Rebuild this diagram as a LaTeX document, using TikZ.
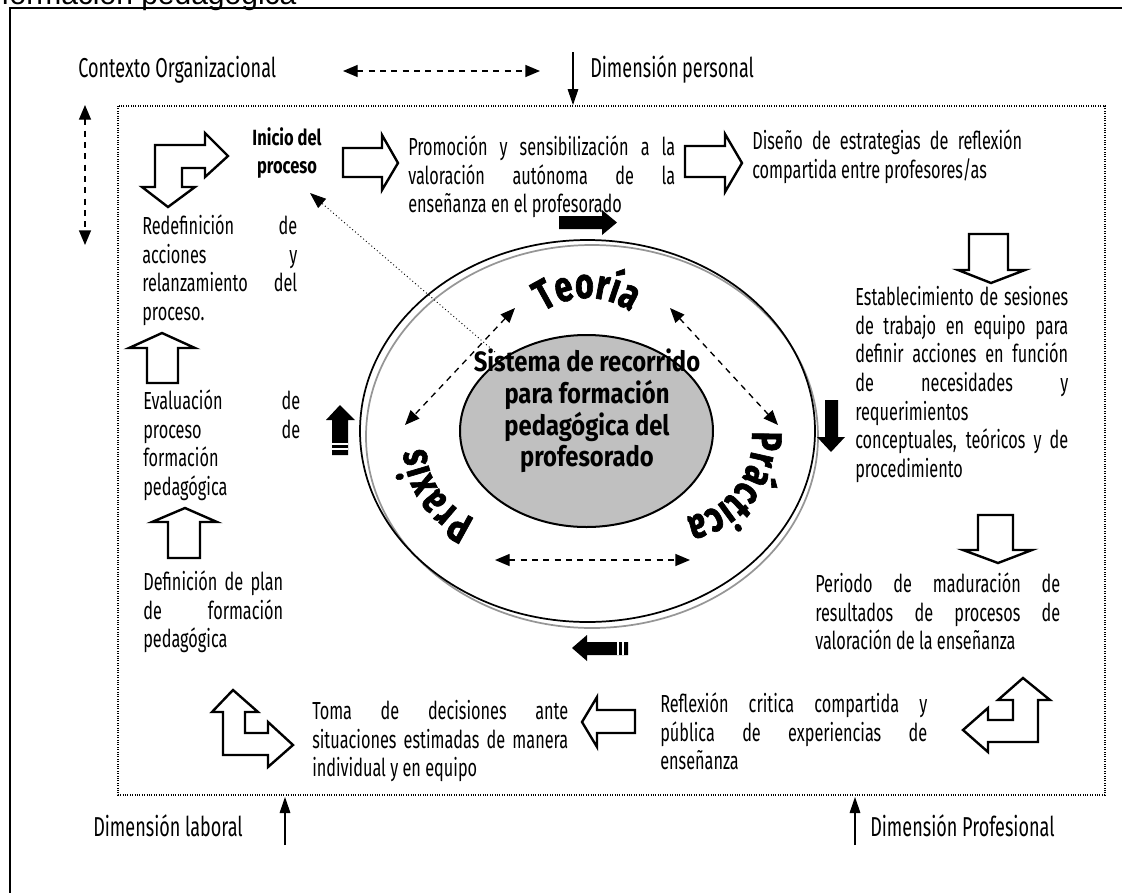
\documentclass[tikz,border=0pt]{standalone}
\usepackage{fontspec}
\setmainfont{Fira Sans}
\newfontfamily\agency[FakeStretch=0.66]{Fira Sans}
\newfontfamily\agencyb[FakeStretch=0.75]{Fira Sans}
\newfontfamily\agencyc[FakeStretch=0.85]{Fira Sans}
\newfontfamily\ringfam[FakeStretch=0.75,FakeBold=1.5]{Fira Sans}
\newfontfamily\capfont{Liberation Sans}
\usetikzlibrary{arrows.meta,decorations.text}
\hyphenpenalty=10000 \exhyphenpenalty=10000 \tolerance=10000 \hbadness=10000 \hfuzz=20pt
\definecolor{ellgray}{RGB}{192,192,192}
\definecolor{ringgray}{RGB}{150,150,150}
\newcommand{\ringfont}{\ringfam\bfseries\fontsize{32}{32}\selectfont}
\tikzset{
  para/.style={font=\agency\fontsize{18.5}{21.5}\selectfont, align=justify, inner sep=0pt, anchor=north west},
  lbl/.style={font=\agency\fontsize{20.5}{24}\selectfont, inner sep=0pt, anchor=base west},
  hollow/.style={draw=black, line width=1.8pt, fill=white, line join=miter},
  solidarr/.style={fill=black, draw=none},
  dashdbl/.style={dash pattern=on 4.5pt off 4pt, line width=1pt, {Triangle[length=11pt,width=9pt]}-{Triangle[length=11pt,width=9pt]}},
  thinarr/.style={line width=0.8pt, -{Triangle[length=12pt,width=8pt]}},
  ringtext/.style={decorate, decoration={text along path, text align=center, text={#1}}}
}
\begin{document}
\begin{tikzpicture}[x=0.75pt, y=-0.75pt]
\useasboundingbox (0,0) rectangle (1122,893);
\begin{scope}
\clip (0,0) rectangle (1122,893);
\node[font=\capfont\fontsize{22.5}{22.5}\selectfont, anchor=base west, inner sep=0pt] (cap) at (1,4) {formación pedagógica};
\end{scope}
% outer frame
\draw[line width=1.1pt] (10,893) -- (10,8) -- (1122,8);
% dotted frame
\draw[densely dotted, line width=0.8pt] (118,106) rectangle (1105,795);

% top labels
\node[lbl] (ctx) at (78,77) {Contexto Organizacional};
\node[lbl] (dpers) at (590,77) {Dimensión personal};
\coordinate (ctxa) at (343,71); \coordinate (ctxb) at (540,71);
\draw[dashdbl] (ctxa) -- (ctxb);
\coordinate (dpa) at (573,52); \coordinate (dpb) at (573,105);
\draw[thinarr] (dpa) -- (dpb);
\coordinate (lva) at (85,105); \coordinate (lvb) at (85,245);
\draw[dashdbl] (lva) -- (lvb);

% bottom labels
\node[lbl] (dlab) at (93,836) {Dimensión laboral};
\node[lbl] (dprof) at (870,836) {Dimensión Profesional};
\coordinate (dla) at (285,845); \coordinate (dlb) at (285,797);
\draw[thinarr] (dla) -- (dlb);
\coordinate (dpra) at (855,845); \coordinate (dprb) at (855,797);
\draw[thinarr] (dpra) -- (dprb);

% ellipses
\draw[line width=1.3pt, ringgray] (592,436.5) ellipse [x radius=226, y radius=191.5];
\draw[line width=1.3pt] (587.5,431) ellipse [x radius=227.5, y radius=191];
\draw[line width=1.5pt, fill=ellgray] (586.5,431) ellipse [x radius=126.5, y radius=96];
\node[font=\agencyc\bfseries\fontsize{21}{23.8}\selectfont, align=center, inner sep=0pt] (core) at (587,411) {Sistema de recorrido\\para formación\\pedagógica del\\profesorado};

% ring words
\coordinate (tcen) at (587,373);
\path[ringtext={|\ringfont|Teoría}] ([shift={(195:75)}]tcen) arc[start angle=195, end angle=345, radius=75];
\coordinate (pcen) at (504,446);
\path[ringtext={|\ringfont|Praxis}] ([shift={(80:78)}]pcen) arc[start angle=80, end angle=210, radius=78];
\coordinate (rcen) at (674,440);
\path[ringtext={|\ringfont|Práctica}] ([shift={(-30:78)}]rcen) arc[start angle=-30, end angle=105, radius=78];

% dashed arrows inside ring
\coordinate (d1a) at (515,308); \coordinate (d1b) at (405,425);
\draw[dashdbl] (d1a) -- (d1b);
\coordinate (d2a) at (670,308); \coordinate (d2b) at (778,425);
\draw[dashdbl] (d2a) -- (d2b);
\coordinate (d3a) at (495,560); \coordinate (d3b) at (690,560);
\draw[dashdbl] (d3a) -- (d3b);

% Inicio
\node[font=\agencyb\bfseries\fontsize{16.5}{21.5}\selectfont, align=center, inner sep=0pt] (inicio) at (287,153) {Inicio del\\proceso};
\coordinate (dotstart) at (495,352); \coordinate (dotend) at (310,193);
\draw[dotted, line width=0.7pt, -{Triangle[length=12pt,width=9pt]}] (dotstart) -- (dotend);

% paragraphs
\node[para, text width=200.25pt] (prom) at (408,135) {\strut Promoción y sensibilización a la\linebreak valoración autónoma de la\linebreak enseñanza en el profesorado};
\node[para, text width=202.5pt] (dis) at (752,129) {\strut Diseño de estrategias de reflexión\linebreak compartida entre profesores/as};
\node[para, text width=116.25pt] (redef) at (142,214) {\strut Redefinición de\linebreak acciones y\linebreak relanzamiento del\linebreak proceso.};
\node[para, text width=117.75pt] (eval) at (143,389) {\strut Evaluación de\linebreak proceso de\linebreak formación\newline pedagógica};
\node[para, text width=105pt] (defi) at (143,570) {\strut Definición de plan\linebreak de formación\linebreak pedagógica};
\node[para, text width=159.75pt] (estab) at (855,285) {\strut Establecimiento de sesiones\linebreak de trabajo en equipo para\linebreak definir acciones en función\linebreak de necesidades y\linebreak requerimientos\newline conceptuales, teóricos y de\linebreak procedimiento};
\node[para, text width=183.75pt] (peri) at (815,572) {\strut Periodo de maduración de\linebreak resultados de procesos de\linebreak valoración de la enseñanza};
\node[para, text width=200.25pt] (refl) at (660,692) {\strut Reflexión critica compartida y\linebreak pública de experiencias de\linebreak enseñanza};
\node[para, text width=192pt] (toma) at (312,699) {\strut Toma de decisiones ante\linebreak situaciones estimadas de manera\linebreak individual y en equipo};

% hollow arrows
\draw[hollow] (168,207) -- (195,187) -- (182,187) -- (182,168) -- (205,168) -- (205,177) -- (228,156) -- (205,133) -- (205,145) -- (155,145) -- (155,187) -- (142,187) -- cycle;
\draw[hollow] (343,148) -- (382,148) -- (382,135) -- (398,163) -- (382,190) -- (382,177) -- (343,177) -- cycle;
\draw[hollow] (685,146) -- (725,146) -- (725,134) -- (742,163) -- (725,192) -- (725,177) -- (685,177) -- cycle;
\draw[hollow] (969,234) -- (1008,234) -- (1008,270) -- (1025,270) -- (991,283) -- (958,270) -- (969,270) -- cycle;
\draw[hollow] (978,515) -- (1013,515) -- (1013,550) -- (1032,550) -- (998,563) -- (963,550) -- (978,550) -- cycle;
\draw[hollow] (162,333) -- (195,348) -- (178,348) -- (178,383) -- (147,383) -- (147,348) -- (129,348) -- cycle;
\draw[hollow] (185,508) -- (217,522) -- (200,522) -- (200,558) -- (168,558) -- (168,522) -- (152,522) -- cycle;
\draw[hollow] (582,722) -- (597,697) -- (597,710) -- (635,710) -- (635,733) -- (597,733) -- (597,747) -- cycle;
\draw[hollow] (1023,678) -- (1050,700) -- (1038,700) -- (1038,742) -- (988,742) -- (988,752) -- (963,730) -- (988,708) -- (988,720) -- (1013,720) -- (1013,700) -- (998,700) -- cycle;
\draw[hollow] (233,690) -- (258,712) -- (245,712) -- (245,733) -- (268,733) -- (268,722) -- (293,745) -- (268,767) -- (268,755) -- (223,755) -- (223,712) -- (212,712) -- cycle;

% solid black arrows around the ring
\fill[solidarr] (559,216) -- (602,216) -- (602,210) -- (617,222.5) -- (602,235) -- (602,229) -- (559,229) -- cycle;
\fill[solidarr] (825,400) -- (838,400) -- (838,437) -- (845,437) -- (831,452) -- (817,437) -- (825,437) -- cycle;
\fill[solidarr] (572,648) -- (587,635) -- (587,642) -- (628,642) -- (628,655) -- (587,655) -- (587,661) -- cycle;
\draw[white, line width=0.8pt] (618,642) -- (618,655) (623,642) -- (623,655);
\fill[solidarr] (340,405) -- (355,420) -- (348,420) -- (348,455) -- (332,455) -- (332,420) -- (326,420) -- cycle;
\draw[white, line width=0.8pt] (332,444) -- (348,444) (332,449) -- (348,449);
\end{tikzpicture}
\end{document}
